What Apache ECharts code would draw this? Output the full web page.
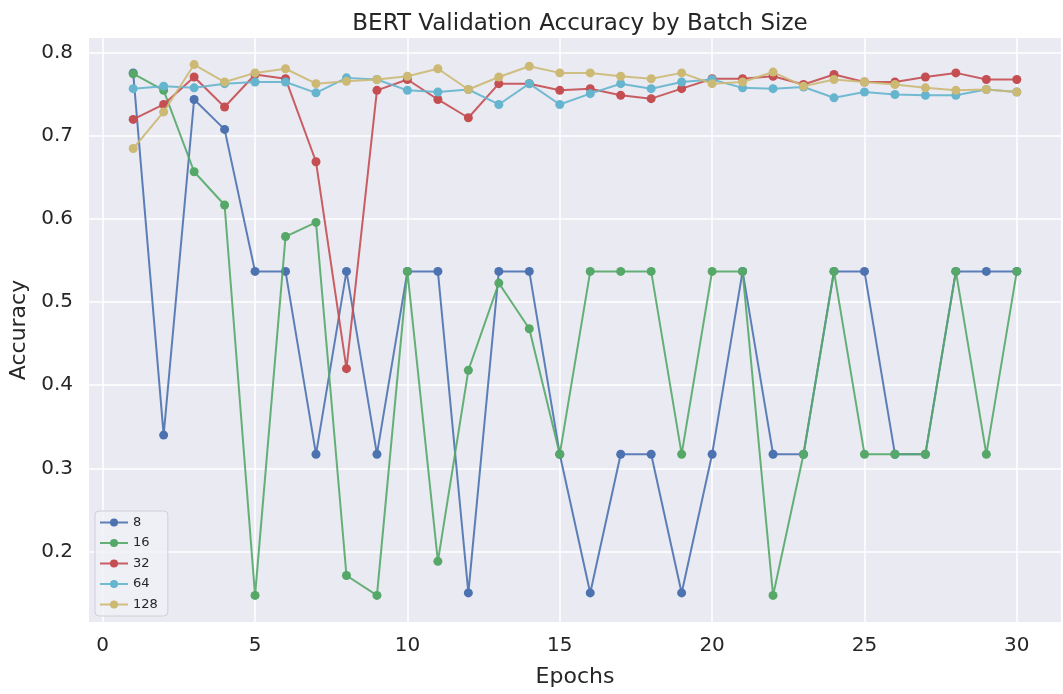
<!DOCTYPE html>
<html>
<head>
<meta charset="utf-8">
<script src="https://cdn.jsdelivr.net/npm/echarts@6/dist/echarts.min.js"></script>
<style>
  html, body { margin: 0; padding: 0; background: #fff; }
  #chart { width: 1063px; height: 694px; }
</style>
</head>
<body>
<div id="chart"></div>
<script>
// 轮次
const epochs = Array.from({ length: 30 }, (_, i) => i + 1);
// 各 batch size 的验证准确率
const acc8 = [0.776, 0.340, 0.744, 0.708, 0.537, 0.537, 0.317, 0.537, 0.317, 0.537,
  0.537, 0.150, 0.537, 0.537, 0.317, 0.150, 0.317, 0.317, 0.150, 0.317,
  0.537, 0.317, 0.317, 0.537, 0.537, 0.317, 0.317, 0.537, 0.537, 0.537];
const acc16 = [0.775, 0.755, 0.657, 0.617, 0.147, 0.579, 0.596, 0.171, 0.147, 0.537,
  0.188, 0.418, 0.523, 0.468, 0.317, 0.537, 0.537, 0.537, 0.317, 0.537,
  0.537, 0.147, 0.317, 0.537, 0.317, 0.317, 0.317, 0.537, 0.317, 0.537];
const acc32 = [0.720, 0.738, 0.771, 0.735, 0.774, 0.769, 0.669, 0.420, 0.755, 0.768,
  0.744, 0.722, 0.763, 0.763, 0.755, 0.757, 0.749, 0.745, 0.757, 0.769,
  0.769, 0.772, 0.762, 0.774, 0.765, 0.765, 0.771, 0.776, 0.768, 0.768];
const acc64 = [0.757, 0.760, 0.758, 0.763, 0.765, 0.765, 0.752, 0.770, 0.768, 0.755,
  0.753, 0.756, 0.738, 0.763, 0.738, 0.751, 0.763, 0.757, 0.765, 0.768,
  0.758, 0.757, 0.759, 0.746, 0.753, 0.750, 0.749, 0.749, 0.756, 0.753];
const acc128 = [0.685, 0.729, 0.786, 0.765, 0.776, 0.781, 0.763, 0.766, 0.768, 0.772,
  0.781, 0.756, 0.771, 0.784, 0.776, 0.776, 0.772, 0.769, 0.776, 0.763,
  0.765, 0.777, 0.760, 0.768, 0.765, 0.762, 0.758, 0.755, 0.756, 0.753];
// 刻度
const xTicks = [0, 5, 10, 15, 20, 25, 30];
const yTicks = [0.2, 0.3, 0.4, 0.5, 0.6, 0.7, 0.8];

const seriesNames = ["8", "16", "32", "64", "128"];
const seriesData = [acc8, acc16, acc32, acc64, acc128];
const colors = ["#4C72B0", "#55A868", "#C44E52", "#64B5CD", "#CCB974"];

const font = "DejaVu Sans";
const textColor = "#262626";

const chart = echarts.init(document.getElementById("chart"));

const options = {
  animation: false,
  backgroundColor: "#ffffff",
  textStyle: { fontFamily: font },
  title: {
    text: "BERT Validation Accuracy by Batch Size",
    left: 575,
    top: 8,
    textAlign: "center",
    textStyle: { fontFamily: font, fontSize: 23, fontWeight: "normal", color: textColor },
  },
  legend: {
    data: seriesNames,
    orient: "vertical",
    left: 95,
    top: 511,
    itemWidth: 28,
    itemHeight: 10,
    itemGap: 7.5,
    padding: [5, 10, 5, 4],
    backgroundColor: "rgba(240, 240, 246, 0.8)",
    borderColor: "#cfcfd6",
    borderWidth: 1,
    borderRadius: 4,
    textStyle: { fontFamily: font, fontSize: 13, color: textColor },
  },
  grid: {
    left: 89,
    right: 2,
    top: 38,
    bottom: 72,
    show: true,
    backgroundColor: "#EAEAF2",
    borderWidth: 0,
  },
  xAxis: {
    type: "value",
    min: -0.45,
    max: 31.45,
    name: "Epochs",
    nameLocation: "middle",
    nameGap: 44,
    nameTextStyle: { fontFamily: font, fontSize: 22, color: textColor },
    axisLine: { show: false },
    axisTick: { show: false, customValues: xTicks },
    axisLabel: {
      customValues: xTicks,
      fontFamily: font,
      fontSize: 20,
      color: textColor,
      margin: 14,
    },
    splitLine: { show: true, lineStyle: { color: "#ffffff", width: 1.5 } },
  },
  yAxis: {
    type: "value",
    min: 0.115,
    max: 0.818,
    name: "Accuracy",
    nameLocation: "middle",
    nameGap: 54,
    nameTextStyle: { fontFamily: font, fontSize: 22, color: textColor },
    axisLine: { show: false },
    axisTick: { show: false, customValues: yTicks },
    axisLabel: {
      customValues: yTicks,
      fontFamily: font,
      fontSize: 20,
      color: textColor,
      margin: 16,
      formatter: (v) => v.toFixed(1),
    },
    splitLine: { show: true, lineStyle: { color: "#ffffff", width: 1.5 } },
  },
  series: seriesNames.map((name, i) => ({
    name,
    type: "line",
    data: epochs.map((e, j) => [e, seriesData[i][j]]),
    symbol: "circle",
    symbolSize: 9,
    itemStyle: { color: colors[i] },
    lineStyle: { color: colors[i], width: 2, opacity: 0.9 },
    z: 2 + i,
  })),
};

chart.setOption(options);
</script>
</body>
</html>
